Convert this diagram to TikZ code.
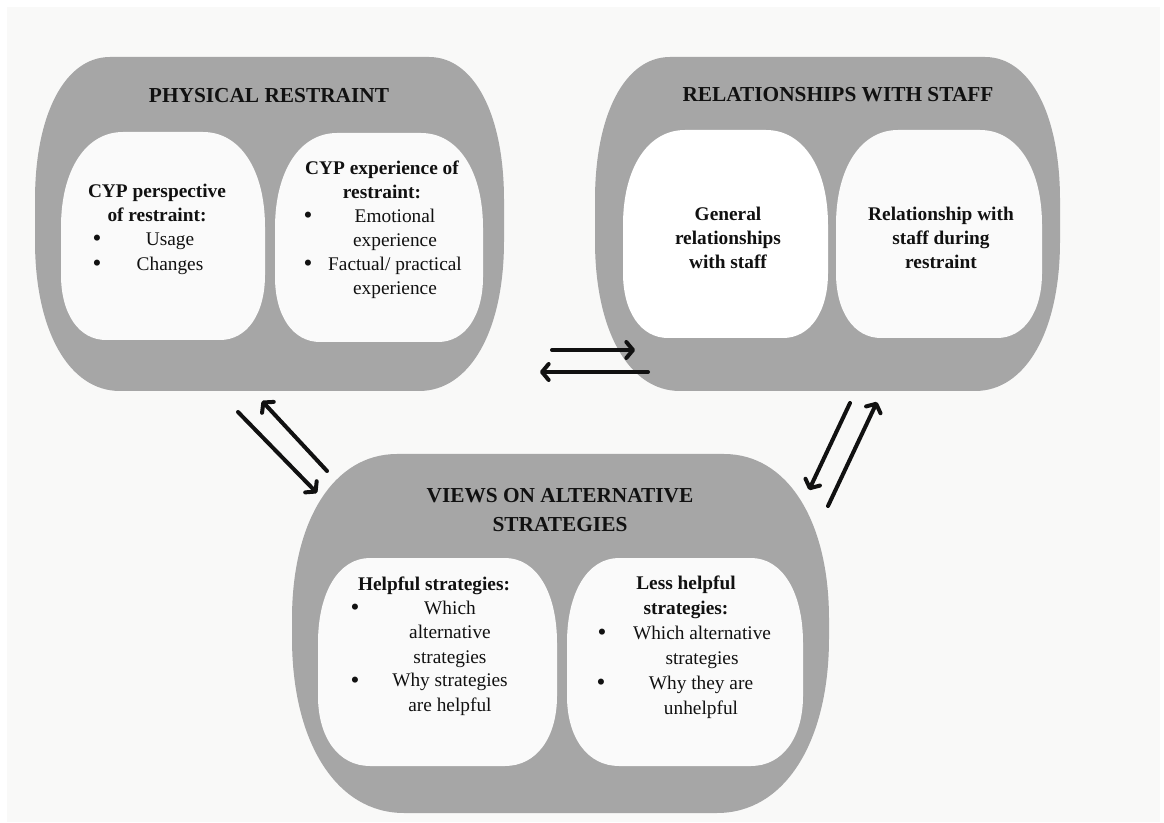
\documentclass[tikz,border=0pt]{standalone}
\usepackage{fontspec}
\setmainfont{Liberation Serif}
\usetikzlibrary{arrows.meta}
\definecolor{outergray}{HTML}{A6A6A6}
\definecolor{innerfill}{HTML}{FAFAFA}
\definecolor{bgfill}{HTML}{F9F9F8}
\definecolor{ink}{HTML}{111111}
% #1 style, #2 x0, #3 y0, #4 x1, #5 y1, #6 rx top, #7 ry top, #8 rx bottom, #9 ry bottom
\newcommand\blobshape[9]{%
  \fill[#1] ({#2+#6},#3) -- ({#4-#6},#3)
    .. controls ({#4-0.4*#6},#3) and (#4,{#3+0.4*#7}) .. (#4,{#3+#7})
    -- (#4,{#5-#9})
    .. controls (#4,{#5-0.4*#9}) and ({#4-0.4*#8},#5) .. ({#4-#8},#5)
    -- ({#2+#8},#5)
    .. controls ({#2+0.4*#8},#5) and (#2,{#5-0.4*#9}) .. (#2,{#5-#9})
    -- (#2,{#3+#7})
    .. controls (#2,{#3+0.4*#7}) and ({#2+0.4*#6},#3) .. cycle;}
\tikzset{
  titletext/.style={font=\bfseries\fontsize{16}{21.75}\selectfont, align=center, anchor=base, inner sep=0pt, text=ink},
  bodytext/.style={font=\fontsize{14.5}{18.3}\selectfont, align=center, anchor=base, inner sep=0pt, text=ink},
  headtext/.style={font=\bfseries\fontsize{14.5}{18.3}\selectfont, align=center, anchor=base, inner sep=0pt, text=ink},
  bulletmark/.style={font=\fontsize{19}{18}\selectfont, anchor=base, inner sep=0pt, text=ink},
  arr/.style={line width=3pt, line cap=round, ink, -{Straight Barb[length=5pt,width=12pt,round]}}
}
\begin{document}
\begin{tikzpicture}[x=0.75pt, y=-0.75pt]
\useasboundingbox (0,0) rectangle (1164,823);
\fill[white] (0,0) rectangle (1164,823);
\fill[bgfill] (7,7) rectangle (1160,822);

% outer groups
\blobshape{outergray}{35}{57}{504}{391}{75}{143}{85}{150}
\blobshape{outergray}{595}{57}{1060}{391}{75}{143}{85}{150}
\blobshape{outergray}{292}{454}{829}{813}{105}{165}{112}{175}

% inner boxes
\blobshape{innerfill}{61}{132}{265}{340}{62}{95}{45}{65}
\blobshape{innerfill}{275}{133}{483}{342}{62}{95}{45}{65}
\blobshape{white}{623}{130}{828}{338}{62}{95}{45}{65}
\blobshape{innerfill}{836}{130}{1042}{338}{62}{95}{45}{65}
\blobshape{innerfill}{318}{558}{557}{766}{52}{85}{52}{70}
\blobshape{innerfill}{567}{558}{803}{766}{52}{85}{52}{70}

% titles (anchor = baseline of last line)
\node[titletext] (prtitle) at (269,103) {PHYSICAL RESTRAINT};
\node[titletext] (rstitle) at (838,102) {RELATIONSHIPS WITH STAFF};
\node[titletext] (vwtitle) at (560,532) {VIEWS ON ALTERNATIVE\\STRATEGIES};

% physical restraint, left
\node[headtext] (plhead) at (157,222) {CYP perspective\\of restraint:};
\node[bulletmark] (plb1) at (97,247) {\textbullet};
\node[bodytext] (pli1) at (170,246) {Usage};
\node[bulletmark] (plb2) at (97,272) {\textbullet};
\node[bodytext] (pli2) at (170,271) {Changes};

% physical restraint, right
\node[headtext] (prhead) at (382,199) {CYP experience of\\restraint:};
\node[bulletmark] (prb1) at (308,224) {\textbullet};
\node[bodytext] (pri1) at (395,247) {Emotional\\experience};
\node[bulletmark] (prb2) at (308,272) {\textbullet};
\node[bodytext] (pri2) at (395,295) {Factual/ practical\\experience};

% relationships with staff
\node[headtext] (rsl) at (728,269) {General\\relationships\\with staff};
\node[headtext] (rsr) at (941,269) {Relationship with\\staff during\\restraint};

% views, left
\node[headtext] (vlhead) at (434,590) {Helpful strategies:};
\node[bulletmark] (vlb1) at (355,615) {\textbullet};
\node[bodytext] (vli1) at (450,663) {Which\\alternative\\strategies};
\node[bulletmark] (vlb2) at (355,688) {\textbullet};
\node[bodytext] (vli2) at (450,711) {Why strategies\\are helpful};

% views, right
\node[headtext] (vrhead) at (686,614) {Less helpful\\strategies:};
\node[bulletmark] (vrb1) at (602,640) {\textbullet};
\node[bodytext] (vri1) at (702,664) {Which alternative\\strategies};
\node[bulletmark] (vrb2) at (601,690) {\textbullet};
\node[bodytext] (vri2) at (701,714) {Why they are\\unhelpful};

% arrow end points
\coordinate (a1s) at (552,350); \coordinate (a1e) at (635,350);
\coordinate (a2s) at (648,372); \coordinate (a2e) at (540,372);
\coordinate (a3s) at (238,412); \coordinate (a3e) at (317,493);
\coordinate (a4s) at (327,471); \coordinate (a4e) at (262,401);
\coordinate (a5s) at (850,403); \coordinate (a5e) at (809,490);
\coordinate (a6s) at (828,506); \coordinate (a6e) at (877,402);
\draw[arr] (a1s) -- (a1e);
\draw[arr] (a2s) -- (a2e);
\draw[arr] (a3s) -- (a3e);
\draw[arr] (a4s) -- (a4e);
\draw[arr] (a5s) -- (a5e);
\draw[arr] (a6s) -- (a6e);
\end{tikzpicture}
\end{document}
